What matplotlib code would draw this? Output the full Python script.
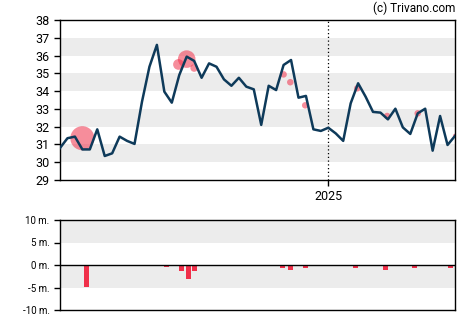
import matplotlib
matplotlib.use("Agg")
import matplotlib.pyplot as plt
import numpy as np

plt.rcParams['font.family'] = ['Roboto', 'DejaVu Sans']

# weekly closing prices
price = [30.8, 31.35, 31.44, 30.72, 30.72, 31.85, 30.35, 30.5, 31.44, 31.2,
         31.03, 33.4, 35.37, 36.6, 33.97, 33.35, 34.9, 35.94, 35.7, 34.75,
         35.56, 35.37, 34.66, 34.3, 34.75, 34.25, 34.1, 32.1, 34.3, 34.06,
         35.47, 35.75, 33.63, 33.73, 31.85, 31.76, 31.94, 31.62, 31.2, 33.31,
         34.44, 33.69, 32.83, 32.79, 32.41, 33.01, 31.96, 31.59, 32.75, 33.01,
         30.65, 32.6, 30.97, 31.48]

# insider trades: position, price, marker size
trade_x = [3.0, 15.9, 17.0, 18.0, 30.0, 30.9, 32.9, 39.9, 43.9, 48.0, 53.0]
trade_y = [31.35, 35.5, 35.8, 35.3, 34.94, 34.5, 33.2, 34.16, 32.6, 32.75, 31.5]
trade_s = [300, 60, 160, 30, 22, 22, 22, 22, 22, 22, 8]

# trade volume (millions)
vol_x = [3.5, 14.3, 16.3, 17.2, 18.1, 29.9, 30.9, 32.9, 39.7, 43.7, 47.6, 52.4]
vol_v = [-4.8, -0.5, -1.4, -3.0, -1.4, -0.7, -1.2, -0.7, -0.7, -1.0, -0.7, -0.7]

year_pos = 36
year_label = "2025"

navy = "#0e3a5a"
red = "#f0304a"
band = "#ececec"

fig = plt.figure(figsize=(4.7, 3.25), dpi=100)
ax = fig.add_axes([60/470, 145/325, 395/470, 160/325])
ax2 = fig.add_axes([60/470, 15/325, 395/470, 90/325])

x = np.arange(len(price))
for lo in [30, 32, 34, 36]:
    ax.axhspan(lo, lo + 1, color=band, lw=0, zorder=0)
ax.scatter(trade_x, trade_y, s=trade_s, color=red, alpha=0.55, lw=0, zorder=2)
ax.plot(x, price, color=navy, lw=1.8, zorder=3)
ax.axvline(year_pos, color="black", ls=(0, (1, 2)), lw=0.9, zorder=1)
ax.set_xlim(0, len(price) - 1)
ax.set_ylim(29, 38)
ax.set_yticks(range(29, 39))
ax.set_xticks([year_pos])
ax.set_xticklabels([year_label])
ax.tick_params(labelsize=9, length=4, width=1)

for lo in [5, -5]:
    ax2.axhspan(lo, lo + 5, color=band, lw=0, zorder=0)
ax2.bar(vol_x, vol_v, width=0.67, color=red, zorder=2)
ax2.axhline(0, color="black", lw=1, zorder=3)
ax2.set_xlim(0, len(price) - 1)
ax2.set_ylim(-10, 10)
ax2.set_yticks([10, 5, 0, -5, -10])
ax2.set_yticklabels(["10 m.", "5 m.", "0 m.", "-5 m.", "-10 m."])
ax2.set_xticks([])
ax2.tick_params(labelsize=7, length=4, width=1)

for a in (ax, ax2):
    for sp in a.spines.values():
        sp.set_linewidth(1)

fig.text(455/470, 1 - 8/325, "(c) Trivano.com", ha="right", va="center", fontsize=8.5)

fig.savefig("out.png", dpi=100)
